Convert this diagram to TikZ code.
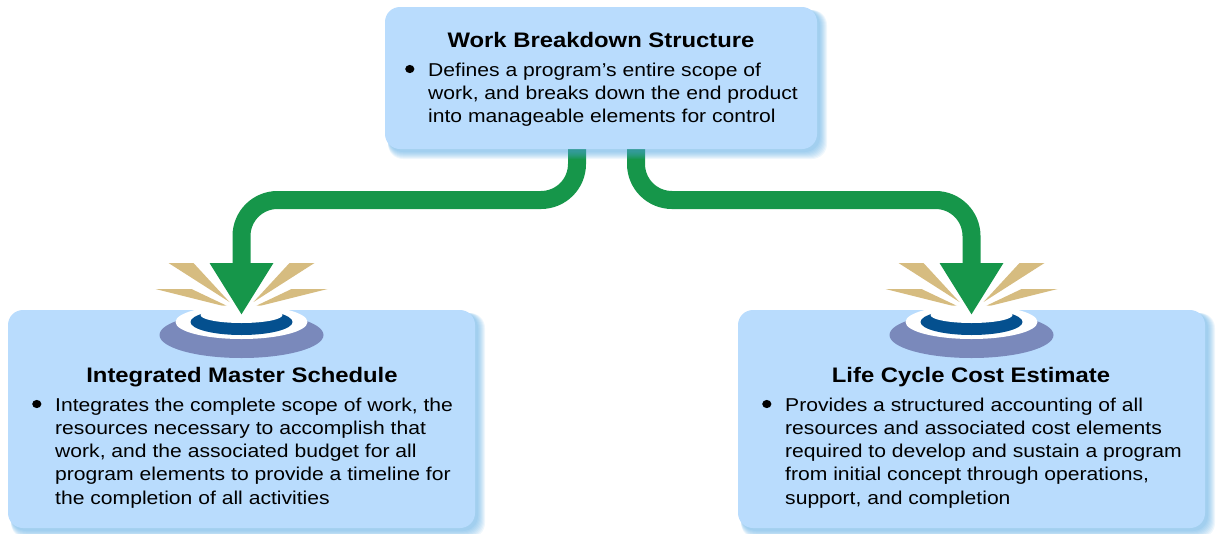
\documentclass[tikz,border=0pt]{standalone}
\usepackage{fontspec}
\setmainfont{Liberation Sans}[FakeStretch=1.135]
\usetikzlibrary{arrows.meta,positioning}
\definecolor{boxblue}{RGB}{185,220,253}
\definecolor{shadeblue}{RGB}{80,165,225}
\definecolor{flowgreen}{RGB}{22,150,74}
\definecolor{raytan}{RGB}{214,188,128}
\definecolor{ringgrey}{RGB}{122,137,187}
\definecolor{ringblue}{RGB}{4,80,143}
\pgfdeclarelayer{bg}
\pgfdeclarelayer{topshade}
\pgfdeclarelayer{top}
\pgfsetlayers{bg,main,topshade,top}
\newcommand{\boxbullet}{\tikz[baseline=-7pt]\fill[black] (0,0) ellipse[x radius=4.6pt, y radius=4.1pt];}
\newcommand{\bulletlines}[1]{\makebox[23pt][l]{\boxbullet}\begin{tabular}[t]{@{}l@{}}#1\end{tabular}}
\tikzset{
    infobox/.style = {
        rectangle,
        rounded corners=15pt,
        fill=boxblue,
        inner sep=0pt,
        outer sep=0pt
    },
    topbox/.style = {
        infobox,
        minimum width=432pt,
        minimum height=142pt
    },
    lowbox/.style = {
        infobox,
        minimum width=467pt,
        minimum height=218pt
    },
    boxtitle/.style = {
        anchor=base,
        inner sep=0pt,
        font=\bfseries\fontsize{21}{25}\selectfont
    },
    boxtext/.style = {
        anchor=base west,
        inner sep=0pt,
        font=\fontsize{18.6}{23.3}\selectfont
    },
    flow/.style = {
        draw=flowgreen,
        line width=18pt,
        rounded corners=36pt,
        -{Triangle[width=60pt,length=52pt]}
    },
    target/.pic = {
        \fill[raytan] (-73,-59) -- (-48,-59) -- (-12,-20) -- cycle;
        \fill[raytan] (-86,-33) -- (-50,-33) -- (-10,-14) -- cycle;
        \fill[raytan] (73,-59) -- (48,-59) -- (12,-20) -- cycle;
        \fill[raytan] (86,-33) -- (50,-33) -- (10,-14) -- cycle;
        \fill[ringgrey] (0,13) ellipse[x radius=82pt, y radius=23pt];
        \fill[white] (0,0) ellipse[x radius=66pt, y radius=17pt];
        \fill[ringblue] (0,0) ellipse[x radius=51pt, y radius=13pt];
        \fill[white] (0,-7) ellipse[x radius=41pt, y radius=8pt];
    }
}
\begin{document}
\begin{tikzpicture}[x=1pt, y=-1pt]
    \useasboundingbox (0,0) rectangle (1217,533);
    % top box
    \begin{pgfonlayer}{top}
        \node [topbox] (wbs) at (601,78) {};
        \node [boxtitle] (wbs title) at (601,47) {Work Breakdown Structure};
        \node [boxtext] (wbs text) at (405,76) {\bulletlines{Defines a program’s entire scope of\\
            work, and breaks down the end product\\
            into manageable elements for control}};
    \end{pgfonlayer}
    \begin{pgfonlayer}{topshade}
        \foreach \s in {1,...,8}
            \fill[shadeblue, opacity=0.09, rounded corners=15pt]
                ([shift={(3,3)}]wbs.north west) rectangle ([shift={(2+\s,2+\s)}]wbs.south east);
    \end{pgfonlayer}
    % lower boxes
    \node [lowbox] (ims) at (241.5,419) {};
    \node [lowbox] (lcce) at (971.5,419) {};
    \begin{pgfonlayer}{bg}
        \foreach \b in {ims,lcce}
            \foreach \s in {1,...,8}
                \fill[shadeblue, opacity=0.09, rounded corners=15pt]
                    ([shift={(3,3)}]\b.north west) rectangle ([shift={(2+\s,2+\s)}]\b.south east);
    \end{pgfonlayer}
    \node [boxtitle] (ims title) at (242,382) {Integrated Master Schedule};
    \node [boxtext] (ims text) at (32,411) {\bulletlines{Integrates the complete scope of work, the\\
        resources necessary to accomplish that\\
        work, and the associated budget for all\\
        program elements to provide a timeline for\\
        the completion of all activities}};
    \node [boxtitle] (lcce title) at (971,382) {Life Cycle Cost Estimate};
    \node [boxtext] (lcce text) at (762,411) {\bulletlines{Provides a structured accounting of all\\
        resources and associated cost elements\\
        required to develop and sustain a program\\
        from initial concept through operations,\\
        support, and completion}};
    % targets
    \pic at ([yshift=-12pt]ims.north) {target};
    \pic at ([yshift=-12pt]lcce.north) {target};
    % arrows
    \draw [flow] ([xshift=-24pt]wbs.south) -- ++(0,51) -| ([yshift=-5pt]ims.north);
    \draw [flow] ([xshift=35pt]wbs.south) -- ++(0,51) -| ([yshift=-5pt]lcce.north);
\end{tikzpicture}
\end{document}
